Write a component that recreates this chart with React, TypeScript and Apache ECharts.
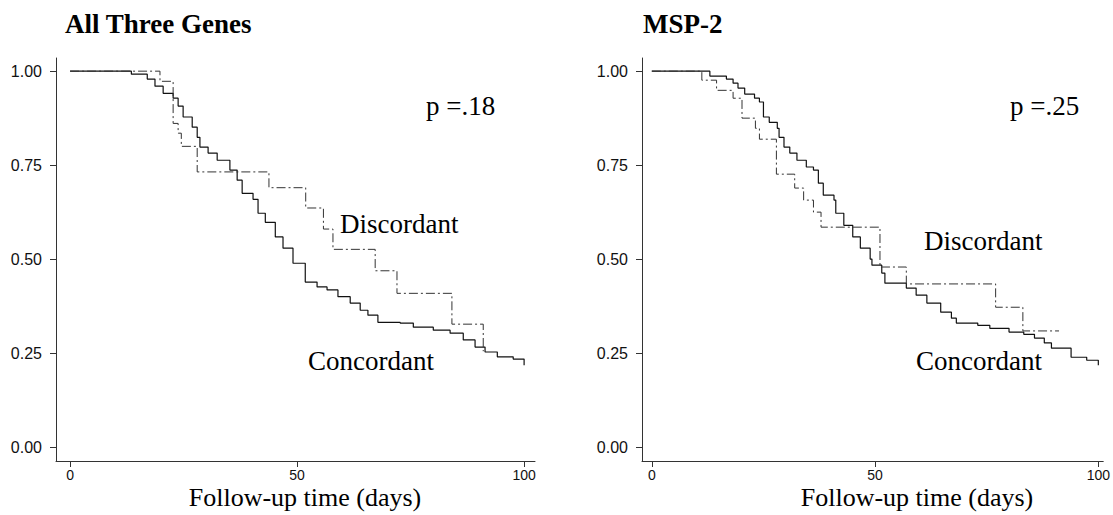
import React, { useEffect, useRef } from "react";
import * as echarts from "echarts";

// ---- Data ----
const leftConT = [0, 13.5, 17.0, 18.7, 20.5, 22.7, 23.8, 24.9, 26.9, 28.0, 28.6, 30.4, 32.4, 35.2, 36.8, 37.9, 40.3, 41.4, 43.0, 45.2, 46.9, 49.1, 51.8, 54.4, 56.6, 59.0, 61.7, 63.9, 65.6, 67.8, 72.7, 75.6, 80.0, 83.7, 86.6, 89.2, 91.4, 94.1, 97.6, 100];
const leftConS = [1, 0.992, 0.979, 0.96, 0.941, 0.928, 0.907, 0.878, 0.851, 0.824, 0.798, 0.782, 0.763, 0.737, 0.71, 0.675, 0.659, 0.622, 0.598, 0.559, 0.529, 0.489, 0.439, 0.426, 0.418, 0.4, 0.383, 0.364, 0.351, 0.332, 0.33, 0.319, 0.311, 0.303, 0.285, 0.266, 0.253, 0.24, 0.234, 0.218];

const leftDisT = [0, 19.8, 22.7, 23.8, 24.5, 28.0, 43.8, 51.9, 55.8, 57.9, 67.2, 72.0, 84.1, 91.0];
const leftDisS = [1, 0.973, 0.861, 0.835, 0.8, 0.732, 0.69, 0.636, 0.58, 0.526, 0.469, 0.409, 0.327, 0.255];

const rightConT = [0, 13.0, 16.7, 18.2, 19.3, 20.8, 23.0, 24.1, 25.0, 26.3, 28.1, 28.5, 29.6, 30.9, 32.5, 34.6, 36.2, 37.3, 38.4, 40.8, 41.2, 43.0, 45.0, 46.7, 48.9, 49.3, 51.5, 52.2, 57.0, 59.2, 61.6, 64.7, 67.1, 68.2, 73.0, 75.7, 80.0, 83.3, 85.7, 87.9, 89.5, 93.9, 97.4, 100];
const rightConS = [1, 0.987, 0.979, 0.968, 0.955, 0.939, 0.928, 0.918, 0.878, 0.864, 0.848, 0.824, 0.798, 0.782, 0.763, 0.745, 0.737, 0.702, 0.67, 0.657, 0.622, 0.59, 0.559, 0.529, 0.5, 0.484, 0.463, 0.436, 0.423, 0.404, 0.383, 0.359, 0.343, 0.33, 0.324, 0.316, 0.306, 0.3, 0.29, 0.277, 0.263, 0.239, 0.231, 0.218];

const rightDisT = [0, 11.2, 14.5, 18.2, 20.2, 23.2, 24.1, 27.9, 32.0, 34.0, 36.2, 37.9, 51.1, 57.0, 77.0, 83.1, 91.2];
const rightDisS = [1, 0.976, 0.949, 0.928, 0.875, 0.848, 0.819, 0.726, 0.689, 0.657, 0.625, 0.585, 0.479, 0.434, 0.372, 0.309, 0.309];

const yTicks = [0, 0.25, 0.5, 0.75, 1];
const xTicks = [0, 50, 100];

const panelTitles = ["All Three Genes", "MSP-2"];
const pValues = ["p =.18", "p =.25"];
const xAxisTitle = "Follow-up time (days)";

const zip = (t: number[], s: number[]) => t.map((v, i) => [v, s[i]]);

const SERIF = "'Liberation Serif', 'Times New Roman', serif";
const SANS = "'Liberation Sans', Arial, sans-serif";

export default function App() {
  const ref = useRef<HTMLDivElement>(null);
  useEffect(() => {
    if (!ref.current) return;
    const chart = echarts.init(ref.current, null, { renderer: "svg" });

    const mkX = (gi: number, min: number, max: number) => ({
      type: "value",
      gridIndex: gi,
      min,
      max,
      axisLine: { onZero: false, lineStyle: { color: "#333", width: 1 } },
      axisTick: { customValues: xTicks, length: 6, lineStyle: { color: "#333" } },
      axisLabel: {
        customValues: xTicks,
        margin: 7,
        color: "#111",
        fontSize: 14,
        lineHeight: 14,
        fontFamily: SANS,
      },
      splitLine: { show: false },
    });
    const mkY = (gi: number) => ({
      type: "value",
      gridIndex: gi,
      min: -0.037,
      max: 1.035,
      axisLine: { show: true, onZero: false, lineStyle: { color: "#333", width: 1 } },
      axisTick: { show: true, customValues: yTicks, length: 6, lineStyle: { color: "#333" } },
      axisLabel: {
        customValues: yTicks,
        margin: 14,
        color: "#111",
        fontSize: 16,
        fontFamily: SANS,
        formatter: (v: number) => v.toFixed(2),
      },
      splitLine: { show: false },
    });

    const solid = { color: "#111", width: 1.2, type: "solid" };
    const dashDot = { color: "#333", width: 1, type: [9, 3, 2, 3] };

    const mkSeries = (name: string, gi: number, data: number[][], ls: any) => ({
      name,
      type: "line",
      xAxisIndex: gi,
      yAxisIndex: gi,
      step: "end",
      symbol: "none",
      data,
      lineStyle: ls,
      silent: true,
    });

    const txt = (text: string, x: number, y: number, size: number, bold = false, align = "left") => ({
      type: "text",
      x,
      y,
      silent: true,
      style: {
        text,
        fill: "#000",
        font: `${bold ? "bold " : ""}${size}px ${SERIF}`,
        textAlign: align,
        textVerticalAlign: "middle",
      },
    });

    chart.setOption({
      animation: false,
      backgroundColor: "#fff",
      grid: [
        { left: 56, top: 58, width: 479, height: 403 },
        { left: 642, top: 58, width: 471, height: 403 },
      ],
      xAxis: [mkX(0, -3.1, 102.4), mkX(1, -2.2, 101.1)],
      yAxis: [mkY(0), mkY(1)],
      series: [
        mkSeries("Concordant", 0, zip(leftConT, leftConS), solid),
        mkSeries("Discordant", 0, zip(leftDisT, leftDisS), dashDot),
        mkSeries("Concordant", 1, zip(rightConT, rightConS), solid),
        mkSeries("Discordant", 1, zip(rightDisT, rightDisS), dashDot),
      ],
      graphic: [
        txt(panelTitles[0], 65, 24, 27, true),
        txt(panelTitles[1], 643, 24, 27, true),
        txt(pValues[0], 426, 106, 27),
        txt(pValues[1], 1010, 106, 27),
        txt("Discordant", 340, 224, 27),
        txt("Discordant", 924, 241, 27),
        txt("Concordant", 308, 361, 27),
        txt("Concordant", 916, 361, 27),
        txt(xAxisTitle, 305, 497, 26, false, "center"),
        txt(xAxisTitle, 917, 497, 26, false, "center"),
      ],
    });
    return () => chart.dispose();
  }, []);
  return (
    <div
      ref={ref}
      style={{ position: "fixed", left: 0, top: 0, width: 1113, height: 515, background: "#fff" }}
    />
  );
}
